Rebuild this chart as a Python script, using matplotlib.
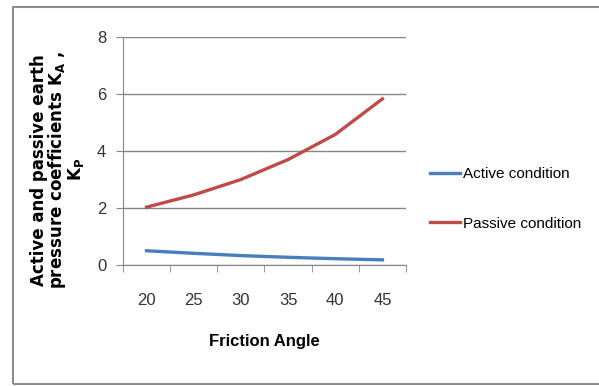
"""Active and passive earth pressure coefficients vs friction angle."""

import matplotlib
matplotlib.use("Agg")
import matplotlib.pyplot as plt
from matplotlib.patches import Rectangle

friction_angles = ["20", "25", "30", "35", "40", "45"]
active_values = [0.50, 0.41, 0.33, 0.27, 0.22, 0.18]
passive_values = [2.03, 2.46, 3.00, 3.70, 4.58, 5.83]

plt.rcParams["font.family"] = ["Liberation Sans", "DejaVu Sans"]

fig = plt.figure(figsize=(5.99, 3.86), dpi=100)
fig.patches.append(Rectangle((0.022, 0.004), 0.99, 0.978, transform=fig.transFigure,
                             fill=False, edgecolor="#8c8c8c", linewidth=1.5))

ax = fig.add_axes([0.2053, 0.3135, 0.4725, 0.5905])
x = range(len(friction_angles))
ax.plot(x, active_values, color="#4a7ebb", linewidth=2.4, label="Active condition")
ax.plot(x, passive_values, color="#be4b48", linewidth=2.4, label="Passive condition")

ax.set_xlim(-0.5, len(friction_angles) - 0.5)
ax.set_ylim(0, 8)
ax.set_yticks([0, 2, 4, 6, 8])
ax.set_xticks(list(x))
ax.set_xticklabels(friction_angles)
ax.set_xticks([i - 0.5 for i in range(len(friction_angles) + 1)], minor=True)
ax.tick_params(axis="x", which="major", length=0, pad=20, labelsize=12, labelcolor="#333333")
ax.tick_params(axis="x", which="minor", length=5, color="#868686")
ax.tick_params(axis="y", length=5, color="#868686", pad=7, labelsize=12, labelcolor="#333333")

ax.grid(axis="y", color="#868686", linewidth=1)
ax.set_axisbelow(True)
for side in ["top", "right"]:
    ax.spines[side].set_visible(False)
for side in ["left", "bottom"]:
    ax.spines[side].set_color("#868686")

ax.set_xlabel("Friction Angle", fontsize=12, fontweight="bold", labelpad=19)
fig.text(0.097, 0.56,
         "Active and passive earth\npressure coefficients K$_\\mathbf{A}$ ,\nK$_\\mathbf{P}$",
         rotation=90, ha="center", va="center", fontsize=12, fontweight="bold",
         family="DejaVu Sans", linespacing=0.88)

ax.legend(loc="center left", bbox_to_anchor=(1.035, 0.29), frameon=False, fontsize=11,
          handlelength=2.0, handletextpad=0.2, labelspacing=2.35)

fig.savefig("out.png", dpi=100)
